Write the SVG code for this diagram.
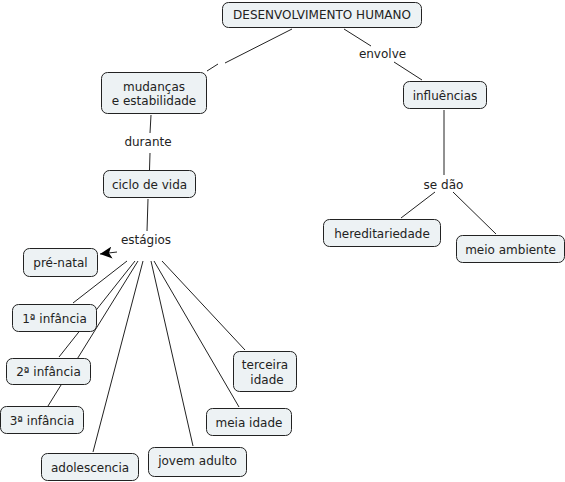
<svg xmlns="http://www.w3.org/2000/svg" width="565" height="482" viewBox="0 0 565 482">
<style>
.n rect{fill:#edf2f4;stroke:#222;stroke-width:1}
text{font-family:"DejaVu Sans","Liberation Sans",sans-serif;font-size:12px;fill:#222;text-anchor:middle}
.c line{stroke:#222;stroke-width:1}
</style>
<defs>
<marker id="ah" viewBox="0 0 12 12" refX="12" refY="6" markerWidth="12" markerHeight="12" markerUnits="userSpaceOnUse" orient="auto">
<path d="M0,0 L12,6 L0,12 L3,6 z" fill="#000"/>
</marker>
</defs>
<rect width="565" height="482" fill="#fff"/>
<g id="connectors" class="c">
<line x1="292" y1="29" x2="225" y2="63"/>
<line x1="218" y1="64" x2="207" y2="71"/>
<line x1="344" y1="29" x2="371" y2="46"/>
<line x1="394" y1="62" x2="422" y2="80"/>
<line x1="151" y1="115" x2="150" y2="133"/>
<line x1="150" y1="153" x2="149.5" y2="170"/>
<line x1="148" y1="199" x2="147" y2="231"/>
<line x1="117" y1="252" x2="100" y2="254" marker-end="url(#ah)"/>
<line x1="127" y1="261" x2="73" y2="303"/>
<line x1="135" y1="261" x2="59" y2="357"/>
<line x1="138" y1="261" x2="48" y2="406"/>
<line x1="143" y1="261" x2="93" y2="452"/>
<line x1="151" y1="261" x2="193" y2="446"/>
<line x1="154" y1="261" x2="239" y2="407"/>
<line x1="162" y1="261" x2="245" y2="350"/>
<line x1="444" y1="110" x2="444" y2="175"/>
<line x1="435" y1="192" x2="401" y2="218"/>
<line x1="453" y1="192" x2="496" y2="234"/>
</g>
<g id="labels">
<text x="382.5" y="58">envolve</text>
<text x="148" y="146">durante</text>
<text x="146" y="244">estágios</text>
<text x="443.5" y="189">se dão</text>
</g>
<g id="n-desenvolvimento" class="n"><rect x="222.5" y="2.5" width="199" height="25" rx="6"/><text x="322" y="19">DESENVOLVIMENTO HUMANO</text></g>
<g id="n-mudancas" class="n"><rect x="101.5" y="72.5" width="105" height="41" rx="6"/><text x="154" y="91">mudanças</text><text x="154" y="105">e estabilidade</text></g>
<g id="n-influencias" class="n"><rect x="403.5" y="81.5" width="83" height="27" rx="6"/><text x="445" y="99.5">influências</text></g>
<g id="n-ciclo" class="n"><rect x="103.5" y="170.5" width="92" height="27" rx="6"/><text x="149.5" y="188.5">ciclo de vida</text></g>
<g id="n-prenatal" class="n"><rect x="23.5" y="248.5" width="74" height="28" rx="6"/><text x="60.5" y="267">pré-natal</text></g>
<g id="n-inf1" class="n"><rect x="12.5" y="304.5" width="84" height="27" rx="6"/><text x="54.5" y="322.5">1ª infância</text></g>
<g id="n-inf2" class="n"><rect x="6.5" y="358.5" width="84" height="26" rx="6"/><text x="48.5" y="376">2ª infância</text></g>
<g id="n-inf3" class="n"><rect x="0.5" y="406.5" width="83" height="27" rx="6"/><text x="42" y="424.5">3ª infância</text></g>
<g id="n-adolescencia" class="n"><rect x="41.5" y="453.5" width="97" height="27" rx="6"/><text x="90" y="471.5">adolescencia</text></g>
<g id="n-jovem" class="n"><rect x="148.5" y="447.5" width="98" height="29" rx="6"/><text x="197.5" y="465">jovem adulto</text></g>
<g id="n-meia" class="n"><rect x="206.5" y="408.5" width="85" height="27" rx="6"/><text x="249" y="426.5">meia idade</text></g>
<g id="n-terceira" class="n"><rect x="233.5" y="351.5" width="63" height="40" rx="6"/><text x="265" y="368.5">terceira</text><text x="267" y="384">idade</text></g>
<g id="n-hereditariedade" class="n"><rect x="323.5" y="219.5" width="117" height="27" rx="6"/><text x="382" y="237.5">hereditariedade</text></g>
<g id="n-meio" class="n"><rect x="456.5" y="235.5" width="108" height="27" rx="6"/><text x="510.5" y="253.5">meio ambiente</text></g>
</svg>
